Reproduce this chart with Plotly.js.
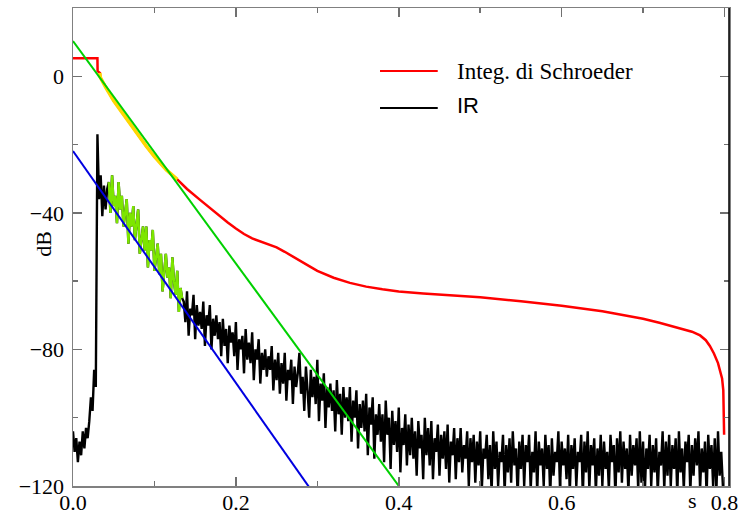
<!DOCTYPE html>
<html>
<head>
<meta charset="utf-8">
<script src="https://cdn.plot.ly/plotly-3.0.1.min.js"></script>
<style>html,body{margin:0;padding:0;background:#fff;}#chart{width:741px;height:516px;}</style>
</head>
<body>
<div id="chart"></div>
<script>
// Impulse response (dB), sampled every irDt seconds starting at t=0
const irDt = 0.002;
const irDb = [
-104,-110,-106,-113,-107,-111,-104,-109,-103,-106,
-101,-94,-98,-86,-91,-17,-36,-29,-41,-32,-39,-33,
-31,-40,-29,-38,-35,-43,-31,-39,-35,-44,-40,-36,-49,-40,-44,-38,-48,-43,-39,-52,
-47,-44,-51,-44,-56,-48,-51,-45,-57,-52,-49,-58,-52,-63,-57,-52,-59,-56,-65,-53,
-60,-64,-57,-69,-62,-65,
-66,-72,-63,-76,-68,-70,-64,-77,-67,-73,
-69,-74,-66,-79,-70,-73,-67,-80,-71,-76,
-70,-77,-72,-82,-71,-79,-74,-84,-73,-78,
-75,-82,-72,-86,-77,-80,-76,-87,-74,-83,
-78,-84,-75,-89,-80,-83,-77,-90,-81,-86,
-80,-88,-82,-86,-79,-92,-83,-89,-81,-93,
-84,-90,-81,-95,-86,-89,-83,-96,-85,-91,
-87,-81,-93,-88,-98,-85,-92,-100,-86,-94,
-88,-96,-83,-101,-90,-95,-87,-103,-91,-97,
-90,-98,-92,-104,-89,-99,-93,-105,-91,-100,
-94,-101,-91,-107,-95,-100,-92,-109,-96,-103,
-95,-104,-93,-111,-97,-102,-94,-112,-99,-105,
-96,-107,-99,-113,-95,-105,-100,-115,-98,-108,
-101,-110,-97,-116,-103,-108,-99,-114,-102,-111,
-100,-112,-104,-117,-101,-109,-105,-118,-100,-111,
-103,-114,-101,-118,-106,-110,-102,-117,-105,-112,
-104,-115,-102,-119,-107,-111,-103,-118,-106,-113,
-103,-116,-108,-112,-104,-120,-106,-113,-105,-119,
-107,-114,-104,-121,-109,-112,-105,-118,-108,-122,
-104,-115,-107,-120,-110,-113,-105,-122,-108,-116,
-106,-119,-104,-114,-109,-123,-107,-115,-105,-120,
-108,-113,-105,-121,-110,-116,-104,-122,-107,-114,
-109,-120,-105,-115,-108,-123,-106,-117,-110,-113,
-104,-121,-107,-114,-109,-118,-105,-122,-108,-115,
-106,-120,-110,-113,-105,-123,-107,-116,-104,-121,
-108,-114,-106,-122,-109,-117,-105,-120,-107,-115,
-110,-121,-105,-113,-108,-123,-106,-116,-104,-119,
-107,-115,-109,-122,-105,-117,-108,-114,-106,-121,
-104,-119,-107,-123,-109,-115,-105,-120,-108,-116,
-106,-122,-110,-114,-104,-121,-107,-117,-105,-120,
-108,-115,-106,-123,-104,-116,-109,-121,-107,-113,
-105,-122,-108,-117,-106,-114,-104,-121,-109,-116,
-107,-123,-105,-115,-108,-120,-106,-122,-104,-117,
-110,-120
];
// portion of the IR used for the fit (drawn in light green)
const fitStart = 22, fitEnd = 67;

// Schroeder backward integration (dB)
const schT = [0,0.030,0.0302,0.033,0.0335,0.04,0.05,0.06,0.075,0.09,0.1,0.115,0.128,0.14,0.156,0.175,0.19,0.2,0.21,0.22,0.23,0.24,0.25,0.26,0.275,0.29,0.3,0.32,0.34,0.36,0.38,0.4,0.43,0.46,0.5,0.55,0.6,0.65,0.7,0.72,0.745,0.76,0.77,0.777,0.782,0.787,0.792,0.795,0.797,0.7985,0.799,0.7995];
const schDb = [5.3,5.3,1.5,1.0,-0.3,-3.2,-7.2,-10.5,-15.6,-20.5,-23.5,-27.5,-30.2,-33.0,-36.2,-40.0,-42.8,-44.6,-46.2,-47.5,-48.3,-49.1,-50.1,-51.4,-53.6,-55.6,-57.0,-59.0,-60.5,-61.6,-62.4,-63.0,-63.6,-64.1,-64.7,-65.9,-67.2,-68.8,-71.0,-72.2,-73.7,-74.8,-75.9,-77.3,-79.0,-81.2,-84.0,-86.5,-88.5,-92.0,-97.0,-105.0];
const schFitStart = 3, schFitEnd = 12;

// regression lines
const greenT = [0, 0.42], greenDb = [10.3, -126.5];
const blueT = [0, 0.30], blueDb = [-21.9, -123.75];

// axis ticks
const xTicks = [0, 0.2, 0.4, 0.6, 0.8];
const xTickText = ['0.0', '0.2', '0.4', '0.6', '0.8'];
const yTicks = [0, -40, -80, -120];
const yTickText = ['0', '\u221240', '\u221280', '\u2212120'];

const irT = irDb.map((_, i) => +(i * irDt).toFixed(4));

const serif = 'Liberation Serif, Times New Roman, serif';
const traces = [
  {x: irT, y: irDb, mode: 'lines', line: {color: '#000000', width: 2.4}, showlegend: false},
  {x: irT.slice(fitStart, fitEnd + 1), y: irDb.slice(fitStart, fitEnd + 1), mode: 'lines', line: {color: '#7de600', width: 2.4}, showlegend: false},
  {x: schT, y: schDb, mode: 'lines', line: {color: '#ff0000', width: 2.5}, showlegend: false},
  {x: schT.slice(schFitStart, schFitEnd + 1), y: schDb.slice(schFitStart, schFitEnd + 1), mode: 'lines', line: {color: '#ffd800', width: 3.5}, showlegend: false},
  {x: greenT, y: greenDb, mode: 'lines', line: {color: '#00d000', width: 2}, showlegend: false},
  {x: blueT, y: blueDb, mode: 'lines', line: {color: '#0000e0', width: 2}, showlegend: false}
];

const axisCommon = {
  showgrid: false, zeroline: false,
  showline: true, linecolor: '#808080', linewidth: 1.5, mirror: 'allticks',
  ticks: 'inside', ticklen: 9, tickwidth: 1.5, tickcolor: '#707070',
  tickfont: {family: serif, size: 22, color: '#000'}
};

const layout = {
  width: 741, height: 516,
  margin: {l: 73, r: 12, t: 8, b: 30},
  paper_bgcolor: '#fff', plot_bgcolor: '#fff',
  showlegend: false,
  xaxis: Object.assign({}, axisCommon, {
    range: [0, 0.8055], tickvals: xTicks, ticktext: xTickText,
    ticklabelstandoff: -4,
    minor: {ticks: 'inside', ticklen: 5, dtick: 0.1, tickcolor: '#707070', tickwidth: 1.5}
  }),
  yaxis: Object.assign({}, axisCommon, {
    range: [-120, 20], tickvals: yTicks, ticktext: yTickText,
    ticklabelstandoff: 3,
    minor: {ticks: 'inside', ticklen: 5, dtick: 20, tickcolor: '#707070', tickwidth: 1.5}
  }),
  shapes: [
    {type: 'line', xref: 'paper', yref: 'paper', x0: 1, x1: 1, y0: 0, y1: 1, line: {color: '#000', width: 1.5}},
    {type: 'line', xref: 'paper', yref: 'paper', x0: 0.468, x1: 0.556, y0: 0.868, y1: 0.868, line: {color: '#ff0000', width: 2}},
    {type: 'line', xref: 'paper', yref: 'paper', x0: 0.468, x1: 0.556, y0: 0.791, y1: 0.791, line: {color: '#000', width: 2}}
  ],
  annotations: [
    {xref: 'paper', yref: 'paper', x: 0.582, y: 0.868, xanchor: 'left', yanchor: 'middle', showarrow: false,
     text: 'Integ. di Schroeder', font: {family: serif, size: 23, color: '#000'}},
    {xref: 'paper', yref: 'paper', x: 0.582, y: 0.797, xanchor: 'left', yanchor: 'middle', showarrow: false,
     text: 'IR', font: {family: 'Liberation Sans, Arial, sans-serif', size: 22, color: '#000'}},
    {xref: 'x', yref: 'paper', x: 0.7607, y: -0.03, xanchor: 'center', yanchor: 'middle', showarrow: false,
     text: 's', font: {family: serif, size: 22, color: '#000'}},
    {xref: 'paper', yref: 'paper', x: -0.045, y: 0.508, xanchor: 'center', yanchor: 'middle', showarrow: false,
     textangle: -90, text: 'dB', font: {family: serif, size: 22, color: '#000'}}
  ]
};

Plotly.newPlot('chart', traces, layout, {displayModeBar: false, staticPlot: true});
</script>
</body>
</html>
